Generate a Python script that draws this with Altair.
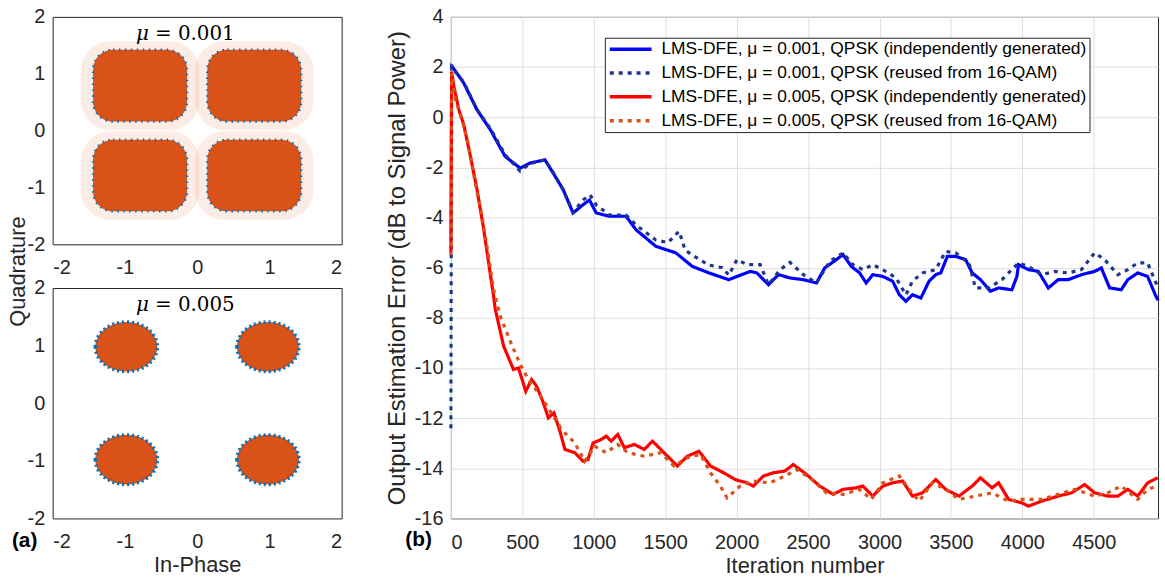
import altair as alt
import pandas as pd

FONT = "Liberation Sans"
INK = "#262626"
ORANGE = "#D95319"
DOTBLUE = "#0072BD"

# ---------------- (a) constellation clusters ----------------
axis_ticks_a = [-2, -1, 0, 1, 2]

# mu = 0.001 : four broad rounded-square clouds
top_cx = [-0.79, 0.79, -0.79, 0.79]
top_cy = [0.79, 0.79, -0.79, -0.79]
top_core_half_x = 0.65
top_core_half_y = 0.63
top_halo_half_x = 0.82
top_halo_half_y = 0.78

# mu = 0.005 : four compact round clouds
bot_cx = [-0.98, 0.98, -0.98, 0.98]
bot_cy = [0.98, 0.98, -0.98, -0.98]

# ---------------- (b) learning curves ----------------
series_names = [
    "LMS-DFE, μ = 0.001, QPSK (independently generated)",
    "LMS-DFE, μ = 0.001, QPSK (reused from 16-QAM)",
    "LMS-DFE, μ = 0.005, QPSK (independently generated)",
    "LMS-DFE, μ = 0.005, QPSK (reused from 16-QAM)",
]
series_colors = ["#0000FF", "#1E378C", "#FF0000", ORANGE]
series_dashes = [[1, 0], [4, 5], [1, 0], [4, 5]]

blue_solid_it = [0, 9, 90, 183, 276, 380, 485, 554, 658, 716,
                 786, 855, 925, 970, 1017, 1110, 1226, 1296, 1435, 1574,
                 1690, 1806, 1945, 2003, 2096, 2142, 2223, 2293, 2374, 2467,
                 2559, 2617, 2698, 2745, 2803, 2861, 2907, 2953, 3023, 3092,
                 3139, 3185, 3231, 3290, 3347, 3394, 3429, 3475, 3533, 3603,
                 3649, 3707, 3776, 3834, 3927, 3962, 3973, 4043, 4112, 4182,
                 4251, 4321, 4414, 4506, 4553, 4611, 4692, 4738, 4808, 4877,
                 4935, 4950]
blue_solid_val = [1.95, 2.02, 1.36, 0.29, -0.50, -1.57, -2.03, -1.83, -1.70, -2.23,
                  -2.89, -3.82, -3.49, -3.30, -3.82, -3.95, -3.95, -4.49, -5.15, -5.41,
                  -5.95, -6.21, -6.48, -6.35, -6.15, -6.21, -6.68, -6.28, -6.41, -6.48,
                  -6.61, -6.01, -5.68, -5.48, -5.95, -6.21, -6.61, -6.28, -6.35, -6.54,
                  -7.08, -7.34, -7.08, -7.21, -6.54, -6.28, -6.21, -5.55, -5.55, -5.68,
                  -6.21, -6.48, -6.94, -6.81, -6.88, -6.35, -5.88, -6.08, -6.15, -6.81,
                  -6.48, -6.48, -6.28, -6.15, -6.01, -6.81, -6.88, -6.48, -6.21, -6.35,
                  -7.14, -7.30]

blue_dot_it = [0, 5, 90, 183, 276, 380, 485, 554, 658, 716,
               786, 855, 925, 975, 1017, 1110, 1226, 1296, 1435, 1520,
               1597, 1640, 1690, 1806, 1900, 1945, 2003, 2073, 2165, 2223,
               2304, 2374, 2467, 2559, 2652, 2745, 2814, 2884, 2953, 3023,
               3116, 3185, 3231, 3301, 3394, 3463, 3533, 3626, 3672, 3765,
               3857, 3973, 4043, 4135, 4228, 4321, 4414, 4506, 4576, 4669,
               4738, 4808, 4877, 4935, 4950]
blue_dot_val = [-12.4, 2.0, 1.40, 0.30, -0.45, -1.50, -2.15, -1.85, -1.70, -2.20,
                -2.90, -3.80, -3.30, -3.10, -3.50, -3.90, -3.90, -4.30, -4.90, -5.00,
                -4.55, -5.30, -5.50, -5.90, -6.00, -6.30, -5.68, -5.88, -5.88, -6.68,
                -6.08, -5.79, -6.28, -6.61, -5.75, -5.41, -5.88, -6.08, -5.88, -6.08,
                -6.41, -7.08, -6.54, -6.21, -6.08, -5.35, -5.41, -5.81, -6.81, -6.81,
                -6.48, -5.81, -5.95, -6.28, -6.15, -6.21, -6.08, -5.41, -5.68, -6.28,
                -6.08, -5.81, -5.81, -6.61, -6.70]

red_solid_it = [0, 5, 21, 56, 90, 137, 183, 230, 264, 299,
                311, 369, 438, 473, 524, 565, 600, 647, 682, 721,
                763, 798, 868, 925, 960, 995, 1053, 1087, 1122, 1168,
                1214, 1284, 1353, 1411, 1492, 1585, 1655, 1736, 1817, 1909,
                1990, 2071, 2117, 2187, 2257, 2338, 2397, 2490, 2582, 2675,
                2745, 2837, 2884, 2953, 3023, 3092, 3162, 3231, 3301, 3394,
                3463, 3556, 3649, 3707, 3788, 3834, 3904, 3996, 4043, 4135,
                4251, 4344, 4437, 4506, 4599, 4669, 4738, 4808, 4877, 4947]
red_solid_val = [-5.40, 1.82, 1.22, 0.29, -0.30, -1.57, -2.89, -4.49, -5.81, -7.14,
                 -7.67, -9.13, -10.06, -10.00, -10.93, -10.46, -10.73, -11.39, -11.99, -11.79,
                 -12.52, -13.25, -13.38, -13.72, -13.65, -12.99, -12.85, -12.72, -12.92, -12.65,
                 -13.18, -13.05, -13.25, -12.92, -13.38, -13.91, -13.52, -13.32, -13.91, -14.18,
                 -14.45, -14.58, -14.71, -14.31, -14.18, -14.11, -13.85, -14.25, -14.71, -15.04,
                 -14.84, -14.78, -14.71, -15.11, -14.71, -14.58, -14.51, -15.11, -14.98, -14.45,
                 -14.84, -15.11, -14.71, -14.38, -14.78, -14.58, -15.24, -15.38, -15.51, -15.31,
                 -15.11, -14.98, -14.65, -14.98, -15.11, -15.11, -14.84, -15.11, -14.58, -14.38]

orange_dot_it = [0, 5, 32, 79, 125, 171, 218, 264, 299, 346,
                 415, 485, 543, 612, 659, 716, 774, 867, 937, 1006,
                 1087, 1168, 1238, 1353, 1469, 1562, 1655, 1747, 1817, 1886,
                 1933, 2025, 2117, 2233, 2338, 2420, 2513, 2629, 2745, 2861,
                 2942, 3023, 3139, 3208, 3278, 3371, 3463, 3556, 3672, 3788,
                 3904, 3996, 4135, 4251, 4367, 4506, 4599, 4692, 4808, 4877,
                 4947]
orange_dot_val = [-5.50, 1.75, 0.69, -0.10, -1.17, -2.63, -3.95, -5.55, -6.88, -7.94,
                  -8.93, -9.86, -10.46, -10.99, -11.39, -11.92, -12.45, -12.99, -13.72, -13.12,
                  -13.38, -13.05, -13.38, -13.52, -13.38, -13.91, -13.58, -13.45, -14.18, -14.71,
                  -15.18, -14.71, -14.51, -14.58, -14.31, -14.05, -14.38, -14.98, -15.04, -14.84,
                  -15.24, -14.58, -14.31, -14.84, -15.31, -14.58, -14.84, -15.24, -15.11, -14.98,
                  -15.31, -15.24, -15.24, -15.04, -14.84, -15.11, -14.98, -14.71, -15.24, -14.84,
                  -14.71]

x_ticks_b = [0, 500, 1000, 1500, 2000, 2500, 3000, 3500, 4000, 4500]
y_ticks_b = [-16, -14, -12, -10, -8, -6, -4, -2, 0, 2, 4]

# ---------------- tables ----------------
top_df = pd.DataFrame({"cx": top_cx, "cy": top_cy})
top_df["hx1"] = top_df.cx - top_halo_half_x
top_df["hx2"] = top_df.cx + top_halo_half_x
top_df["hy1"] = top_df.cy - top_halo_half_y
top_df["hy2"] = top_df.cy + top_halo_half_y
top_df["kx1"] = top_df.cx - top_core_half_x
top_df["kx2"] = top_df.cx + top_core_half_x
top_df["ky1"] = top_df.cy - top_core_half_y
top_df["ky2"] = top_df.cy + top_core_half_y
bot_df = pd.DataFrame({"cx": bot_cx, "cy": bot_cy})

frames = []
for name, its, vals in zip(series_names,
                           [blue_solid_it, blue_dot_it, red_solid_it, orange_dot_it],
                           [blue_solid_val, blue_dot_val, red_solid_val, orange_dot_val]):
    frames.append(pd.DataFrame({"series": name, "it": its, "val": vals}))
line_df = pd.concat(frames, ignore_index=True)

PLAIN = "'' + datum.value"

# ---------------- panel (a) ----------------
sx = alt.Scale(domain=[-2, 2], nice=False)
sy = alt.Scale(domain=[-2, 2], nice=False)


def mu_text(label):
    d = pd.DataFrame({"mu": ["μ"], "rest": ["= " + label]})
    t1 = alt.Chart(d).mark_text(font="DejaVu Serif", fontStyle="italic", fontSize=20,
                                align="right", baseline="alphabetic", color="black").encode(
        x=alt.value(97), y=alt.value(23), text="mu:N")
    t2 = alt.Chart(d).mark_text(font="DejaVu Serif", fontSize=20,
                                align="left", baseline="alphabetic", color="black").encode(
        x=alt.value(103), y=alt.value(23), text="rest:N")
    return t1 + t2


top_xaxis = alt.Axis(values=axis_ticks_a, title=None, labelPadding=13, grid=False,
                     labelExpr=PLAIN)
top_yaxis = alt.Axis(values=axis_ticks_a, title=None, labelPadding=8, grid=False,
                     labelExpr=PLAIN)

halo = alt.Chart(top_df).mark_rect(fill=ORANGE, opacity=0.11, cornerRadius=30).encode(
    x=alt.X("hx1:Q", scale=sx, axis=top_xaxis), x2="hx2:Q",
    y=alt.Y("hy1:Q", scale=sy, axis=top_yaxis), y2="hy2:Q")
core = alt.Chart(top_df).mark_rect(fill=ORANGE, stroke=DOTBLUE, strokeWidth=2.5,
                                   strokeDash=[1.5, 4.5], cornerRadius=20).encode(
    x=alt.X("kx1:Q", scale=sx), x2="kx2:Q",
    y=alt.Y("ky1:Q", scale=sy), y2="ky2:Q")
top_panel = alt.layer(halo, core, mu_text("0.001")).properties(width=291, height=229)

ellipse = "M-1,0A1,0.8,0,1,0,1,0A1,0.8,0,1,0,-1,0Z"
bot_xaxis = alt.Axis(values=axis_ticks_a, title="In-Phase", labelPadding=13, grid=False,
                     titleBaseline="alphabetic", titleY=53, labelExpr=PLAIN)
bot_yaxis = alt.Axis(values=axis_ticks_a, title="Quadrature", labelPadding=8, grid=False,
                     titleX=-35, titleY=-17, titleBaseline="middle", titleAlign="center",
                     titleAngle=270, labelExpr=PLAIN)
blobs = alt.Chart(bot_df).mark_point(shape=ellipse, filled=True, fill=ORANGE, opacity=1,
                                     stroke=DOTBLUE, strokeWidth=3.5, strokeOpacity=1,
                                     strokeDash=[2, 3], size=3900).encode(
    x=alt.X("cx:Q", scale=sx, axis=bot_xaxis),
    y=alt.Y("cy:Q", scale=sy, axis=bot_yaxis))
a_lbl = alt.Chart(pd.DataFrame({"lbl": ["(a)"]})).mark_text(
    font=FONT, fontSize=21, fontWeight="bold", align="left", baseline="alphabetic",
    color="black").encode(x=alt.value(-41), y=alt.value(261), text="lbl:N")
bot_panel = alt.layer(blobs, mu_text("0.005"), a_lbl).properties(width=291, height=232)

left = alt.vconcat(top_panel, bot_panel, spacing=44, bounds="flush")

# ---------------- panel (b) ----------------
leg = alt.Legend(title=None, orient="none", legendX=556, legendY=21,
                 symbolType="stroke", symbolSize=1764, symbolStrokeWidth=3.5,
                 clipHeight=17, rowPadding=6, padding=3, labelOffset=8,
                 labelFont=FONT, labelFontSize=17.5, labelColor="black", labelLimit=800,
                 strokeColor=INK, fillColor="white")

lines = alt.Chart(line_df).mark_line(strokeWidth=3.2, strokeCap="butt").encode(
    x=alt.X("it:Q", scale=alt.Scale(domain=[0, 4950], nice=False),
            axis=alt.Axis(values=x_ticks_b, title="Iteration number", grid=True,
                          labelPadding=14, titleBaseline="alphabetic", titleY=54,
                          labelExpr=PLAIN)),
    y=alt.Y("val:Q", scale=alt.Scale(domain=[-16, 4], nice=False),
            axis=alt.Axis(values=y_ticks_b, title="Output Estimation Error (dB to Signal Power)",
                          grid=True, labelPadding=8, titleFontSize=24, titleX=-54,
                          titleY=252.5, titleBaseline="middle", titleAlign="center",
                          titleAngle=270, labelExpr=PLAIN)),
    color=alt.Color("series:N", scale=alt.Scale(domain=series_names, range=series_colors),
                    legend=leg),
    strokeDash=alt.StrokeDash("series:N", scale=alt.Scale(domain=series_names, range=series_dashes),
                              legend=leg),
)
b_lbl = alt.Chart(pd.DataFrame({"lbl": ["(b)"]})).mark_text(
    font=FONT, fontSize=21, fontWeight="bold", align="left", baseline="alphabetic",
    color="black").encode(x=alt.value(-46), y=alt.value(533), text="lbl:N")
right = alt.layer(lines, b_lbl).properties(width=712, height=505)

chart = alt.hconcat(left, right, spacing=42, bounds="full").configure(
    padding={"left": 6, "top": 4, "right": 0, "bottom": 0},
    background="white", font=FONT,
).configure_view(stroke=INK, strokeWidth=1).configure_axis(
    labelFont=FONT, labelFontSize=20, labelColor=INK,
    titleFont=FONT, titleFontSize=22, titleColor=INK, titleFontWeight="normal",
    domain=False, ticks=False, gridColor="#DFDFDF", gridWidth=1,
)

chart.save("out.html", embed_options={"renderer": "svg", "actions": False})
